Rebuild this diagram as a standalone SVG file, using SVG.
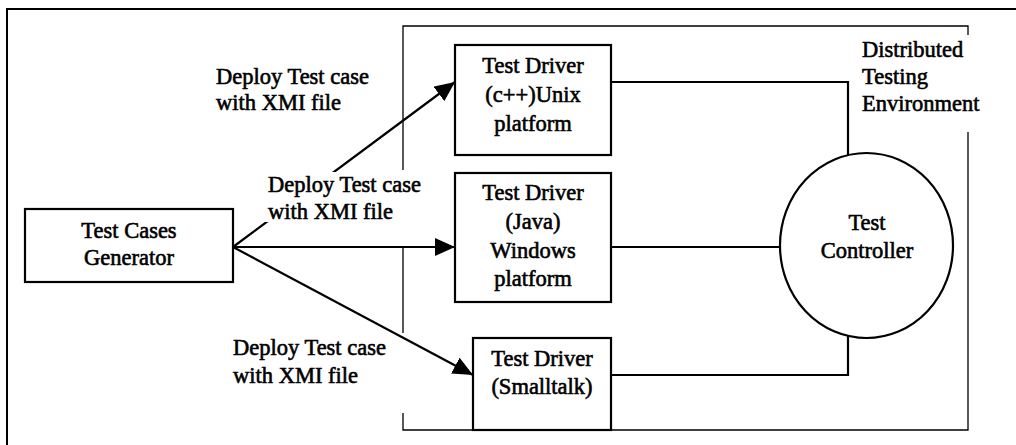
<svg xmlns="http://www.w3.org/2000/svg" width="1016" height="445" viewBox="0 0 1016 445">
  <style>
    text { font-family: "Liberation Serif", "Times New Roman", serif; font-size: 22.5px; fill: #000; stroke: #000; stroke-width: 0.6; }
    .c { text-anchor: middle; }
    .box { fill: #fff; stroke: #000; stroke-width: 2.2; }
    .frame { fill: none; stroke: #000; stroke-width: 1.3; }
    .outer { fill: none; stroke: #000; stroke-width: 2; }
    .wire { fill: none; stroke: #000; stroke-width: 2.2; }
    .arrow { fill: none; stroke: #000; stroke-width: 2.2; marker-end: url(#head); }
  </style>
  <defs>
    <marker id="head" markerUnits="userSpaceOnUse" markerWidth="20" markerHeight="18" refX="20" refY="9" orient="auto">
      <path d="M0,0 L20,9 L0,18 z" fill="#000"/>
    </marker>
  </defs>
  <rect width="1016" height="445" fill="#fff"/>

  <!-- page border (top and left edges) -->
  <path class="outer" d="M7,445 V9 H1016"/>

  <!-- distributed testing environment boundary, broken where labels sit -->
  <g id="environment">
    <path class="frame" d="M403,170 V26 H968 V35 M968,132 V430 H403 V413 M403,333 V248"/>
    <text x="862" y="57">Distributed</text>
    <text x="862" y="84">Testing</text>
    <text x="862" y="111">Environment</text>
  </g>

  <!-- connectors -->
  <g id="connectors">
    <line class="arrow" x1="233" y1="247" x2="455" y2="82"/>
    <line class="arrow" x1="233" y1="247" x2="455" y2="247"/>
    <line class="arrow" x1="233" y1="247" x2="473" y2="375"/>
    <path class="wire" d="M611,82 H848 V155"/>
    <path class="wire" d="M611,247 H780"/>
    <path class="wire" d="M611,375 H848 V336"/>
  </g>

  <!-- deployment labels -->
  <g id="label-unix">
    <text x="216" y="84">Deploy Test case</text>
    <text x="216" y="110">with XMI file</text>
  </g>
  <g id="label-java">
    <rect x="263" y="172" width="138" height="50" fill="#fff"/>
    <text x="268" y="192">Deploy Test case</text>
    <text x="268" y="219">with XMI file</text>
  </g>
  <g id="label-smalltalk">
    <text x="233" y="355">Deploy Test case</text>
    <text x="233" y="383">with XMI file</text>
  </g>

  <g id="generator">
    <rect class="box" x="25" y="209" width="208" height="73"/>
    <text class="c" x="129" y="238">Test Cases</text>
    <text class="c" x="129" y="265">Generator</text>
  </g>

  <g id="driver-unix">
    <rect class="box" x="455" y="45" width="156" height="110"/>
    <text class="c" x="533" y="73">Test Driver</text>
    <text class="c" x="533" y="102">(c++)Unix</text>
    <text class="c" x="533" y="131">platform</text>
  </g>

  <g id="driver-java">
    <rect class="box" x="455" y="173" width="156" height="129"/>
    <text class="c" x="533" y="200">Test Driver</text>
    <text class="c" x="533" y="229">(Java)</text>
    <text class="c" x="533" y="258">Windows</text>
    <text class="c" x="533" y="286">platform</text>
  </g>

  <g id="driver-smalltalk">
    <rect class="box" x="473" y="338" width="138" height="92"/>
    <text class="c" x="542" y="366">Test Driver</text>
    <text class="c" x="542" y="394">(Smalltalk)</text>
  </g>

  <g id="controller">
    <ellipse class="box" cx="866.5" cy="245.5" rx="86.5" ry="92.5"/>
    <text class="c" x="867" y="230">Test</text>
    <text class="c" x="867" y="258">Controller</text>
  </g>
</svg>
